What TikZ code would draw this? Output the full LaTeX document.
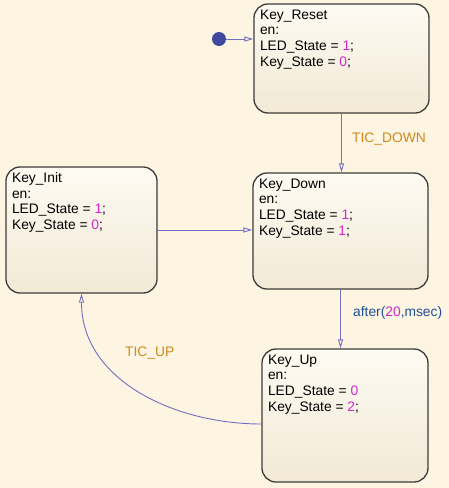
\documentclass[tikz,border=0pt]{standalone}
\usepackage{fontspec}
\setmainfont{Liberation Sans}
\usepackage{tikz}
\usetikzlibrary{calc,arrows.meta}

\definecolor{chartbg}{RGB}{253,244,226}
\definecolor{boxline}{RGB}{60,60,60}
\definecolor{boxtop}{RGB}{254,251,243}
\definecolor{boxbot}{RGB}{242,233,214}
\definecolor{transline}{RGB}{112,112,190}
\definecolor{dotc}{RGB}{64,72,160}
\definecolor{eventc}{RGB}{207,138,26}
\definecolor{afterc}{RGB}{30,80,150}
\definecolor{numc}{RGB}{210,40,200}
\newcommand{\kval}[1]{\textcolor{numc}{#1}}

\begin{document}
\begin{tikzpicture}[x=1pt,y=-1pt,
    state/.style={draw=boxline,line width=1.3pt,rounded corners=14pt,top color=boxtop,bottom color=boxbot,inner sep=0pt},
    act/.style={anchor=north west,inner sep=0pt,align=left,font=\fontsize{13.8}{15.7}\selectfont},
    trans/.style={draw=transline,line width=0.9pt,-{Triangle[open,length=9pt,width=5pt]}},
    trig/.style={text=eventc,inner sep=0pt,font=\fontsize{13.8}{15.7}\selectfont}]
      \fill[chartbg] (0,0) rectangle (449,488);
      \useasboundingbox (0,0) rectangle (449,488);
      % states, centre and size in pixels of the chart
      \node[state,minimum width=175pt,minimum height=109pt] (reset) at (341.5,58.5) {};
      \node[state,minimum width=175pt,minimum height=116pt] (down) at (340.5,231) {};
      \node[state,minimum width=151pt,minimum height=126pt] (init) at (81.5,230) {};
      \node[state,minimum width=166pt,minimum height=133pt] (up) at (345,415.5) {};
      \node[act] (resettxt) at ($(reset.north west)+(6.5,6)$) {Key\_Reset\\en:\\LED\_State = \kval{1};\\Key\_State = \kval{0};};
      \node[act] (downtxt) at ($(down.north west)+(6.5,6)$) {Key\_Down\\en:\\LED\_State = \kval{1};\\Key\_State = \kval{1};};
      \node[act] (inittxt) at ($(init.north west)+(6.5,6)$) {Key\_Init\\en:\\LED\_State = \kval{1};\\Key\_State = \kval{0};};
      \node[act] (uptxt) at ($(up.north west)+(6.5,6)$) {Key\_Up\\en:\\LED\_State = \kval{0}\\Key\_State = \kval{2};};
      \node[circle,fill=dotc,minimum size=14pt,inner sep=0pt] (start) at (219,39) {};
      \draw[trans] (start) -- (start -| reset.west);
      \draw[trans] (reset.south) -- (reset.south |- down.north);
      \draw[trans] (init.east) -- (init.east -| down.west);
      \draw[trans] (down.south) -- (down.south |- up.north);
      % curve leaves Key_Up a little below its middle
      \coordinate (upout) at ($(up.west)+(0,8.5)$);
      \draw[trans] (upout) to[out=180,in=-90] (init.south);
      \node[trig,anchor=west] (ticdown) at (352,139) {TIC\_DOWN};
      \node[trig,anchor=west,text=afterc] (after) at (353,313) {after(\kval{20},msec)};
      \node[trig,anchor=west] (ticup) at (125,353) {TIC\_UP};
    \end{tikzpicture}
\end{document}
